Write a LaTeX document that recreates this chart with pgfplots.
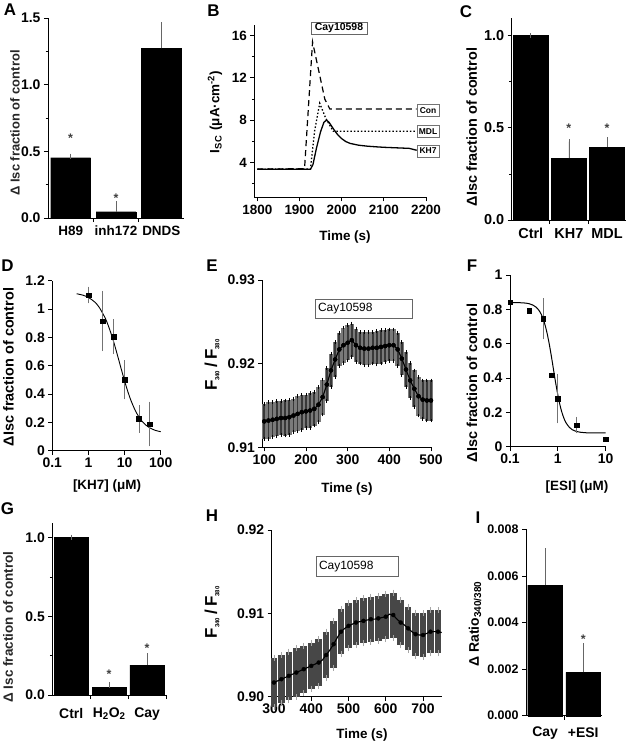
\documentclass[border=0pt]{standalone}
\usepackage{fontspec}
\setmainfont{Liberation Sans}
\usepackage{pgfplots}
\usepackage{pgfplotstable}
\pgfplotsset{compat=1.18}
\newcommand{\fs}[1]{\fontsize{#1}{#1}\selectfont\bfseries}
\newcommand{\fr}[1]{\fontsize{#1}{#1}\selectfont}

\pgfplotstableread{
t m e
100 0.9131 0.0021
110 0.9132 0.0022
120 0.9133 0.0021
130 0.9134 0.0021
140 0.9135 0.0020
150 0.9135 0.0021
160 0.9136 0.0021
170 0.9138 0.0020
180 0.9140 0.0021
190 0.9142 0.0021
200 0.9143 0.0020
210 0.9144 0.0021
220 0.9146 0.0020
230 0.9151 0.0021
240 0.9160 0.0021
250 0.9175 0.0020
260 0.9192 0.0020
270 0.9205 0.0021
280 0.9217 0.0020
290 0.9222 0.0021
300 0.9225 0.0021
310 0.9228 0.0020
320 0.9222 0.0020
330 0.9219 0.0019
340 0.9218 0.0020
350 0.9218 0.0020
360 0.9219 0.0019
370 0.9219 0.0020
380 0.9220 0.0020
390 0.9221 0.0019
400 0.9222 0.0019
410 0.9222 0.0019
420 0.9217 0.0020
430 0.9206 0.0020
440 0.9193 0.0021
450 0.9180 0.0021
460 0.9170 0.0022
470 0.9161 0.0023
480 0.9157 0.0023
490 0.9156 0.0024
500 0.9156 0.0024
}\tabE

\pgfplotstableread{
t m
300 0.9017
310 0.9019
320 0.9021
330 0.9023
340 0.9025
350 0.9027
360 0.9029
370 0.9031
380 0.9033
390 0.9035
400 0.9037
410 0.9039
420 0.9041
430 0.9044
440 0.9050
450 0.9056
460 0.9063
470 0.9071
480 0.9078
490 0.9082
500 0.9085
510 0.9087
520 0.9089
530 0.9090
540 0.9091
550 0.9092
560 0.9093
570 0.9093
580 0.9094
590 0.9095
600 0.9096
610 0.9099
620 0.9098
630 0.9093
640 0.9089
650 0.9086
660 0.9082
670 0.9078
680 0.9075
690 0.9074
700 0.9074
710 0.9076
720 0.9078
730 0.9078
740 0.9078
750 0.9077
}\tabH

\pgfplotstableread{
t m e
300 0.9017 0.0029
320 0.9021 0.0029
340 0.9025 0.0029
360 0.9029 0.0029
380 0.9033 0.0028
400 0.9037 0.0028
420 0.9041 0.0028
440 0.9050 0.0028
460 0.9063 0.0028
480 0.9078 0.0027
500 0.9085 0.0027
520 0.9089 0.0027
540 0.9091 0.0027
560 0.9093 0.0027
580 0.9094 0.0027
600 0.9096 0.0027
620 0.9098 0.0027
640 0.9089 0.0027
660 0.9082 0.0026
680 0.9075 0.0026
700 0.9074 0.0026
720 0.9078 0.0026
740 0.9078 0.0026
}\tabHe

\pgfplotsset{
 panel/.style={
  scale only axis, anchor=south west, clip=false,
  axis x line*=bottom, axis y line*=left,
  tick align=outside, major tick length=4bp, minor tick length=2.5bp,
  every tick/.append style={black, line width=0.8bp},
  axis line style={black, line width=0.8bp},
  /pgf/number format/assume math mode=true,
  tick label style={font=\fs{14}, black},
  scaled ticks=false,
 },
 barerr/.style={fill=black, draw=black, error bars/.cd, y dir=plus, y explicit,
  error bar style={black!60, line width=0.8bp},
  error mark options={black!60, line width=0.8bp, mark size=2.6bp}},
}

\begin{document}
\begin{tikzpicture}
\path[use as bounding box, fill=white] (0,0) rectangle (629bp,-744bp);

% ---------------- A
\begin{axis}[panel, at={(48bp,-218bp)}, width=136bp, height=200bp,
  ybar, bar width=0.88, xmin=-0.5, xmax=2.5, ymin=0, ymax=1.5,
  ytick={0,0.5,1,1.5}, minor ytick={0.25,0.75,1.25},
  yticklabel style={/pgf/number format/.cd, fixed, fixed zerofill, precision=1},
  xtick={0.5,1.5}, xticklabels={}]
\addplot[barerr] coordinates {(0,0.452) +- (0,0.012) (1,0.047) +- (0,0.058) (2,1.273) +- (0,0.175)};
\node[font=\fs{12.5}, black!75] at (axis cs:0,0.595) {*};
\node[font=\fs{12.5}, black!75] at (axis cs:1,0.150) {*};
\node[font=\fs{13.5}, yshift=-12.5bp] at (axis cs:0,0) {H89};
\node[font=\fs{13.5}, yshift=-12.5bp] at (axis cs:1,0) {inh172};
\node[font=\fs{13.5}, yshift=-12.5bp] at (axis cs:2,0) {DNDS};
\end{axis}

% ---------------- B
\begin{axis}[panel, at={(254.3bp,-197.3bp)}, width=171.7bp, height=172.3bp,
  xmin=1792.9, xmax=2200, ymin=0.7, ymax=17,
  xtick={1800,1900,2000,2100,2200}, ytick={4,8,12,16}, minor ytick={2,6,10,14},
  xticklabel style={/pgf/number format/1000 sep={}},
  tick label style={font=\fs{13.5}}]
\addplot[black, line width=1.2bp, dash pattern=on 6bp off 4bp] coordinates {(1800,3.38) (1912,3.4) (1931,15.4) (1960,10.0) (1972,9.05) (2178,9.05)};
\addplot[black, line width=1.3bp, dash pattern=on 1.5bp off 2bp] coordinates {(1800,3.36) (1926,3.38) (1936,7.0) (1948,9.6) (1962,8.2) (1980,6.95) (2178,6.95)};
\addplot[black, line width=1.3bp] coordinates {(1800,3.35) (1926,3.35) (1932,3.8) (1940,5.3) (1950,6.9) (1958,7.8) (1964,8.0) (1970,7.8) (1980,7.2) (1990,6.65) (2000,6.25) (2010,5.97) (2020,5.8) (2040,5.63) (2060,5.54) (2080,5.48) (2100,5.43) (2130,5.38) (2160,5.33) (2178,5.15)};
\end{axis}

% ---------------- C
\begin{axis}[panel, at={(511.7bp,-220bp)}, width=114.4bp, height=202bp,
  ybar, bar width=0.91, xmin=-0.5, xmax=2.5, ymin=0, ymax=1.096,
  ytick={0,0.5,1}, minor ytick={0.25,0.75},
  yticklabel style={/pgf/number format/.cd, fixed, fixed zerofill, precision=1},
  tick label style={font=\fs{14.5}},
  xtick={0.5,1.5}, xticklabels={}]
\addplot[barerr] coordinates {(0,1.0) +- (0,0) (1,0.335) +- (0,0.09) (2,0.395) +- (0,0.04)};
\node[font=\fs{12.5}, black!75] at (axis cs:1,0.50) {*};
\node[font=\fs{12.5}, black!75] at (axis cs:2,0.50) {*};
\node[font=\fs{14.5}, yshift=-13.5bp] at (axis cs:0,0) {Ctrl};
\node[font=\fs{14.5}, yshift=-13.5bp] at (axis cs:1,0) {KH7};
\node[font=\fs{14.5}, yshift=-13.5bp] at (axis cs:2,0) {MDL};
\end{axis}

% ---------------- D
\begin{axis}[panel, at={(52.3bp,-450.7bp)}, width=108.4bp, height=170bp,
  xmode=log, xmin=0.1, xmax=100, ymin=0, ymax=1.2,
  xtick={0.1,1,10,100}, log ticks with fixed point, xminorticks=false,
  ytick={0,0.2,0.4,0.6,0.8,1,1.2},
  tick label style={font=\fs{14}}]
\addplot[black, line width=0.9bp, smooth] coordinates {(0.47,1.108) (0.7,1.098) (1,1.082) (1.5,1.049) (2,1.011) (3,0.929) (4,0.845) (5,0.768) (6,0.697) (7,0.635) (8,0.581) (10,0.493) (12,0.426) (15,0.355) (20,0.281) (25,0.238) (30,0.210) (40,0.178) (50,0.161) (70,0.144) (100,0.134)};
\addplot[only marks, mark=square*, mark size=2.3bp, black,
  error bars/.cd, y dir=both, y explicit,
  error bar style={black!55, line width=0.8bp},
  error mark options={black!55, line width=0.8bp, mark size=2.5bp}]
  coordinates {(1,1.099) +- (0,0.042) (2.5,0.915) +- (0,0.195) (5,0.805) +- (0,0.105) (10,0.50) +- (0,0.12) (25,0.224) +- (0,0.08) (50,0.188) +- (0,0.14)};
\end{axis}

% ---------------- E
\begin{axis}[panel, at={(262.3bp,-447.3bp)}, width=168.7bp, height=167.3bp,
  xmin=95.2, xmax=500, ymin=0.91, ymax=0.93,
  xtick={100,200,300,400,500}, ytick={0.91,0.92,0.93},
  yticklabel style={/pgf/number format/.cd, fixed, fixed zerofill, precision=2},
  tick label style={font=\fs{14}}]
\addplot[only marks, mark=none, error bars/.cd, y dir=both, y explicit,
  error bar style={black!52, line width=4.4bp},
  error mark=none]
  table[x=t, y=m, y error=e] {\tabE};
\addplot[only marks, mark=none, error bars/.cd, y dir=both, y explicit,
  error bar style={black!78, line width=1.7bp},
  error mark options={black, line width=0.7bp, mark size=1.8bp}]
  table[x=t, y=m, y error=e] {\tabE};
\addplot[black, line width=1.1bp] table[x=t, y=m] {\tabE};
\end{axis}

% ---------------- F
\begin{axis}[panel, at={(510bp,-446.7bp)}, width=95.7bp, height=171.7bp,
  xmode=log, xmin=0.1, xmax=10, ymin=0, ymax=1,
  xtick={0.1,1,10}, log ticks with fixed point, xminorticks=false,
  ytick={0,0.2,0.4,0.6,0.8,1},
  tick label style={font=\fs{14}}]
\addplot[black, line width=1bp, smooth] coordinates {(0.1,0.840) (0.15,0.839) (0.2,0.837) (0.25,0.833) (0.3,0.825) (0.35,0.813) (0.4,0.795) (0.45,0.771) (0.5,0.739) (0.55,0.701) (0.6,0.657) (0.65,0.609) (0.7,0.559) (0.75,0.509) (0.8,0.460) (0.85,0.414) (0.9,0.372) (1.0,0.301) (1.1,0.246) (1.2,0.205) (1.35,0.163) (1.5,0.137) (1.75,0.112) (2,0.099) (2.5,0.088) (3,0.084) (4,0.081) (6,0.080) (10,0.080)};
\addplot[only marks, mark=square*, mark size=2.2bp, black,
  error bars/.cd, y dir=both, y explicit,
  error bar style={black!55, line width=0.8bp},
  error mark options={black!55, line width=0.8bp, mark size=2.5bp}]
  coordinates {(0.1,0.841) +- (0,0) (0.25,0.792) +- (0,0) (0.5,0.745) +- (0,0.105) (0.75,0.417) +- (0,0) (1,0.28) +- (0,0.13) (2.5,0.126) +- (0,0.033) (10,0.043) +- (0,0)};
\end{axis}

% ---------------- G
\begin{axis}[panel, at={(52.3bp,-695bp)}, width=113.7bp, height=172bp,
  ybar, bar width=0.9, xmin=-0.5, xmax=2.5, ymin=0, ymax=1.093,
  ytick={0,0.5,1}, minor ytick={0.25,0.75},
  yticklabel style={/pgf/number format/.cd, fixed, fixed zerofill, precision=1},
  tick label style={font=\fs{14}},
  xtick={0.5,1.5,2.5}, xticklabels={}]
\addplot[barerr] coordinates {(0,1.0) +- (0,0.002) (1,0.049) +- (0,0.015) (2,0.19) +- (0,0.06)};
\node[font=\fs{12.5}, black!75] at (axis cs:1,0.13) {*};
\node[font=\fs{12.5}, black!75] at (axis cs:2,0.30) {*};
\node[font=\fs{14}, yshift=-19bp] at (axis cs:0,0) {Ctrl};
\node[font=\fs{14}, yshift=-19bp] at (axis cs:1,0) {H\textsubscript{2}O\textsubscript{2}};
\node[font=\fs{14}, yshift=-19bp] at (axis cs:2,0) {Cay};
\end{axis}

% ---------------- H
\begin{axis}[panel, at={(271.7bp,-696.7bp)}, width=170bp, height=166.7bp,
  xmin=294, xmax=750, ymin=0.90, ymax=0.92,
  xtick={300,400,500,600,700}, ytick={0.90,0.91,0.92},
  yticklabel style={/pgf/number format/.cd, fixed, fixed zerofill, precision=2},
  tick label style={font=\fs{14}}]
\addplot[only marks, mark=none, error bars/.cd, y dir=both, y explicit,
  error bar style={black!72, line width=6.6bp},
  error mark options={black!35, line width=0.8bp, mark size=3bp}]
  table[x=t, y=m, y error=e] {\tabHe};
\addplot[black, line width=1.1bp] table[x=t, y=m] {\tabH};
\end{axis}

% ---------------- I
\begin{axis}[panel, at={(526bp,-715.7bp)}, width=76.3bp, height=186.4bp,
  ybar, bar width=0.91, xmin=-0.5, xmax=1.5, ymin=0, ymax=0.008,
  ytick={0,0.002,0.004,0.006,0.008},
  yticklabel style={/pgf/number format/.cd, fixed, fixed zerofill, precision=3},
  tick label style={font=\fs{12.5}},
  xtick={0.5}, xticklabels={}]
\addplot[barerr] coordinates {(0,0.0056) +- (0,0.00148) (1,0.00186) +- (0,0.00114)};
\node[font=\fs{12.5}, black!75] at (axis cs:1,0.0033) {*};
\node[font=\fs{14}, yshift=-17bp] at (axis cs:0,0) {Cay};
\node[font=\fs{14}, yshift=-17bp] at (axis cs:1,0) {+ESI};
\end{axis}

% ---------------- annotations
\foreach \l/\x/\y in {A/10/10, B/213.5/11, C/466/12, D/7.5/266, E/212/266, F/472/266, G/7.5/509, H/212/516, I/478/518}
  \node[font=\fs{17}] at (\x bp,-\y bp) {\l};

\node[rotate=90, font=\fs{13}, black!85] at (15bp,-123bp) {Δ Isc fraction of control};
\node[rotate=90, font=\fs{13.5}] at (215bp,-112bp) {I\textsubscript{SC}\hspace{5bp}(μA·cm\textsuperscript{-2})};
\node[font=\fs{13.5}] at (345bp,-237.5bp) {Time (s)};
\node[rotate=90, font=\fs{14.5}] at (471.7bp,-127bp) {ΔIsc fraction of control};
\node[rotate=90, font=\fs{14.5}] at (8.5bp,-367bp) {ΔIsc fraction of control};
\node[font=\fs{13.5}] at (107bp,-486bp) {[KH7] (μM)};
\node[rotate=90, font=\fs{17}] at (212bp,-365bp) {F\textsubscript{\fs{6}340}\,/\,F\textsubscript{\fs{6}380}};
\node[font=\fs{13.5}] at (347bp,-489bp) {Time (s)};
\node[rotate=90, font=\fs{14.5}] at (472bp,-383bp) {ΔIsc fraction of control};
\node[font=\fs{13.5}] at (577bp,-487bp) {[ESI] (μM)};
\node[rotate=90, font=\fs{13.5}, black!85] at (8bp,-627bp) {Δ Isc fraction of control};
\node[rotate=90, font=\fs{17}] at (212bp,-612bp) {F\textsubscript{\fs{6}340}\,/\,F\textsubscript{\fs{6}380}};
\node[font=\fs{13.5}] at (362bp,-735bp) {Time (s)};
\node[rotate=90, font=\fs{14}] at (475bp,-624bp) {Δ Ratio\textsubscript{\fs{10}340/380}};

\node[draw=black!60, line width=0.7bp, font=\fs{10.5}, minimum width=56bp, minimum height=11.3bp, inner sep=0pt] at (339bp,-28.4bp) {Cay10598};
\node[draw=black!55, fill=white, line width=0.7bp, font=\fs{8.5}, minimum width=22bp, minimum height=12bp, inner sep=0pt] at (428bp,-110.3bp) {Con};
\node[draw=black!55, fill=white, line width=0.7bp, font=\fs{8.5}, minimum width=22bp, minimum height=12bp, inner sep=0pt] at (428bp,-131.5bp) {MDL};
\node[draw=black!55, fill=white, line width=0.7bp, font=\fs{8.5}, minimum width=22bp, minimum height=12bp, inner sep=0pt] at (428bp,-151bp) {KH7};
\node[draw=black!60, line width=0.7bp, font=\fr{12}, minimum width=97bp, minimum height=19.3bp, inner sep=0pt, text width=91bp, align=left] at (363.5bp,-308.6bp) {Cay10598};
\node[draw=black!60, line width=0.7bp, font=\fr{12}, minimum width=82bp, minimum height=19.3bp, inner sep=0pt, text width=76bp, align=left] at (357bp,-566.3bp) {Cay10598};
\end{tikzpicture}
\end{document}
